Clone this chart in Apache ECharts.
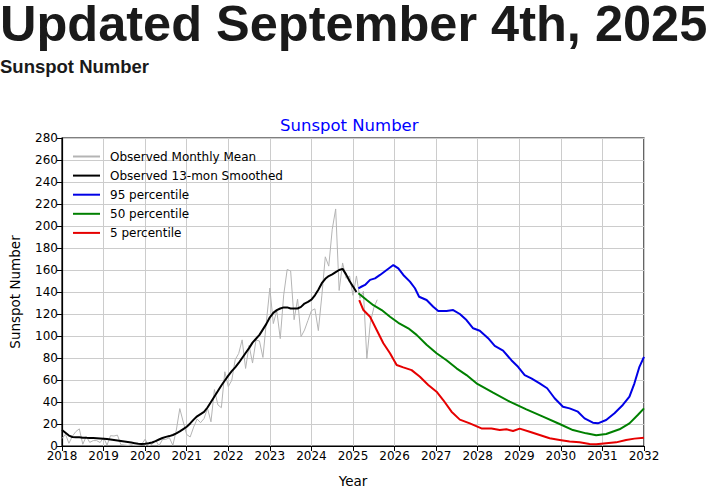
<!DOCTYPE html>
<html>
<head>
<meta charset="utf-8">
<script src="https://cdn.jsdelivr.net/npm/echarts@6/dist/echarts.min.js"></script>
<style>
  html, body { margin: 0; padding: 0; background: #fff; }
  #wrap { position: relative; width: 712px; height: 496px; overflow: hidden; }
  #chart { position: absolute; left: 0; top: 0; width: 712px; height: 496px; }
  .h1 { position: absolute; left: 0; top: 0; margin: 0; font-family: "Liberation Sans", Arial, sans-serif; font-weight: bold; font-size: 50.5px; letter-spacing: 0; line-height: 47px; color: #1a1a1a; white-space: nowrap; z-index: 2; }
  .h2 { position: absolute; left: 0; top: 57px; margin: 0; font-family: "Liberation Sans", Arial, sans-serif; font-weight: bold; font-size: 18.5px; line-height: 20px; color: #1a1a1a; white-space: nowrap; z-index: 2; }
</style>
</head>
<body>
<div id="wrap">
  <div class="h1">Updated September 4th, 2025</div>
  <div class="h2">Sunspot Number</div>
  <div id="chart"></div>
</div>
<script>
// ---- Data ----
const startYear = 2018;
// Observed monthly mean sunspot number, Jan 2018 .. Aug 2025
const observedMonthly = [
  6.8,10.7,2.5,8.9,13.1,15.6,1.6,8.7,3.3,4.9,4.9,3.1,
  7.7,0.8,9.4,9.1,9.9,1.2,0.9,0.5,1.1,0.4,0.5,1.5,
  6.2,0.2,1.5,5.2,0.2,5.8,6.1,7.5,0.6,14.4,34.0,21.8,
  10.4,8.2,17.2,24.5,21.2,25.0,34.3,22.0,51.3,37.4,34.8,67.5,
  54.0,59.7,78.5,84.1,96.5,70.5,91.4,75.4,96.3,95.5,80.5,113.1,
  143.6,111.3,123.0,97.6,137.4,160.5,159.1,114.8,133.6,99.4,105.4,114.2,
  123.0,124.7,104.9,136.5,172.0,163.5,196.8,215.5,141.4,166.4,152.5,154.5,
  137.0,154.6,134.2,140.6,79.4,112.0,125.6,133.0
];
// Observed 13-month smoothed, Jan 2018 .. Feb 2025
const observedSmoothed = [
  14.5,12.0,9.5,8.2,7.9,7.9,7.6,7.4,7.3,7.2,7.0,6.8,
  6.6,6.3,5.9,5.5,5.1,4.6,4.1,3.6,3.1,2.6,2.1,1.9,
  2.1,2.5,3.2,4.4,5.9,7.3,8.3,9.0,10.0,11.5,13.3,15.4,
  17.5,20.5,24,27,29,31,35,40,45,50,55,59.5,
  64,68,71.5,75.5,80,84.5,89,94,97.5,101,106,111,
  117,121,123.5,125,126,126,125,125,125,126.5,129.5,131,
  133,137,142,148,152,154.5,156,158,160,161,156,150,
  145,140
];
// Predictions [year, value]
const p95 = [[2025.13,143.4],[2025.21,145],[2025.29,146.4],[2025.41,151],[2025.53,152.4],[2025.65,155.5],[2025.81,160],[2025.97,164.5],[2026.09,161.5],[2026.21,155.5],[2026.37,149.4],[2026.49,143.4],[2026.59,135.7],[2026.77,132.7],[2026.93,126.6],[2027.05,122.7],[2027.25,122.7],[2027.41,123.6],[2027.57,120],[2027.73,114.5],[2027.89,107],[2028.05,104.8],[2028.25,98],[2028.41,91],[2028.61,86.7],[2028.81,78],[2028.97,72],[2029.13,64.5],[2029.29,61.5],[2029.49,57],[2029.67,52.5],[2029.85,43.4],[2030.05,35.7],[2030.21,34.2],[2030.41,31.2],[2030.57,25.1],[2030.77,21.2],[2030.89,20.6],[2031.09,23.6],[2031.29,29.7],[2031.49,37.3],[2031.65,44.8],[2031.77,57],[2031.89,72],[2032.0,81]];
const p50 = [[2025.13,138.8],[2025.33,132.7],[2025.49,128],[2025.69,123.6],[2025.89,117.5],[2026.09,112],[2026.33,107],[2026.53,101],[2026.77,92],[2027.01,84.3],[2027.25,78],[2027.49,70.6],[2027.73,64.5],[2027.97,57],[2028.37,48.5],[2028.77,40.3],[2029.17,33.3],[2029.57,26.7],[2029.97,20],[2030.29,14.5],[2030.61,11.5],[2030.85,9.7],[2031.09,10.9],[2031.41,15.2],[2031.65,20.6],[2031.85,28.2],[2032.0,34.2]];
const p5 = [[2025.15,132.7],[2025.25,123.6],[2025.41,117.5],[2025.57,105.5],[2025.73,93.4],[2025.89,84.3],[2026.05,73.6],[2026.21,71.5],[2026.41,69],[2026.61,63],[2026.81,55.5],[2027.01,49.4],[2027.17,41.8],[2027.37,31.2],[2027.57,24],[2027.81,20.6],[2028.09,16],[2028.33,16],[2028.53,14.5],[2028.69,15.2],[2028.85,13.6],[2029.01,15.8],[2029.25,13],[2029.49,10],[2029.73,7],[2029.97,5.5],[2030.21,4],[2030.45,3.4],[2030.69,1.8],[2030.85,1.5],[2031.09,2.4],[2031.33,3.3],[2031.57,5.5],[2031.77,6.7],[2032.0,7.6]];
const seriesNames = ['Observed Monthly Mean','Observed 13-mon Smoothed','95 percentile','50 percentile','5 percentile'];

// ---- Chart ----
const toMonthly = arr => arr.map((v, i) => [startYear + i / 12, v]);
const font = 'DejaVu Sans';
const chart = echarts.init(document.getElementById('chart'), null, { renderer: 'svg' });
const axisCommon = {
  type: 'value',
  axisLine: { show: true, lineStyle: { color: '#000', width: 1.2 } },
  axisTick: { show: true, inside: false, length: 5, lineStyle: { color: '#000', width: 1 } },
  axisLabel: { color: '#000', fontSize: 12, fontFamily: font, margin: 4, formatter: v => String(v) },
  splitLine: { show: true, lineStyle: { color: '#cccccc', width: 1 } },
  nameLocation: 'middle',
  nameTextStyle: { color: '#000', fontSize: 13.5, fontFamily: font }
};
const lineSeries = (name, data, color, width, z) => ({
  name, type: 'line', data, symbol: 'none', showSymbol: false, color, z,
  lineStyle: { color, width }, emphasis: { disabled: true }
});
chart.setOption({
  animation: false,
  title: {
    text: 'Sunspot Number', left: 275, top: 112,
    textStyle: { color: '#0000ff', fontSize: 16.5, fontWeight: 'normal', fontFamily: font }
  },
  legend: {
    data: seriesNames, orient: 'vertical', left: 68, top: 145.5,
    icon: 'rect', itemWidth: 27, itemHeight: 2, itemGap: 7.1,
    textStyle: { color: '#000', fontSize: 12, fontFamily: font, padding: [0, 0, 0, 5] }
  },
  grid: { left: 62, top: 138, right: 68, bottom: 50, show: true, borderColor: '#000', borderWidth: 1.2, containLabel: false, outerBoundsMode: 'none' },
  xAxis: Object.assign({}, axisCommon, { min: 2018, max: 2032, interval: 1, name: 'Year', nameGap: 28 }),
  yAxis: Object.assign({}, axisCommon, { min: 0, max: 280, interval: 20, name: 'Sunspot Number', nameGap: 40 }),
  series: [
    lineSeries(seriesNames[0], toMonthly(observedMonthly), '#b4b4b4', 1, 2),
    lineSeries(seriesNames[1], toMonthly(observedSmoothed), '#000000', 2, 3),
    lineSeries(seriesNames[2], p95, '#0000e6', 2, 4),
    lineSeries(seriesNames[3], p50, '#008000', 2, 4),
    lineSeries(seriesNames[4], p5, '#e60000', 2, 4)
  ]
});
</script>
</body>
</html>
